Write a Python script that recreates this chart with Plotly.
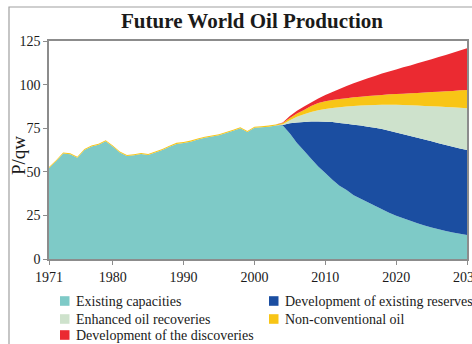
import plotly.graph_objects as go

# ---- data: world oil production by source (stacked contributions) ----
years = list(range(1971, 2031))

existing_capacities = [
    52.2, 56.0, 60.5, 60.0, 58.0, 62.5, 64.5, 65.5, 67.5, 64.5,
    61.0, 59.0, 59.5, 60.2, 59.6, 61.0, 62.5, 64.4, 66.0, 66.5,
    67.3, 68.5, 69.5, 70.2, 71.0, 72.2, 73.5, 75.0, 72.8, 75.3,
    75.5, 75.9, 76.5, 76.5, 72.0, 66.5, 62.0, 57.5, 53.0, 49.3,
    45.5, 42.0, 39.5, 36.5, 34.5, 32.5, 30.5, 28.5, 26.5, 24.8,
    23.3, 22.0, 20.5, 19.2, 18.0, 17.0, 16.0, 15.2, 14.5, 13.8,
]

# contributions before 2004 (33 years) followed by 2004-2030
existing_reserves = [0.0] * 33 + [
    0.3, 5.8, 11.8, 16.6, 21.3, 25.8, 29.4, 33.0, 36.0, 38.0,
    40.5, 42.0, 43.3, 44.8, 46.0, 47.0, 47.7, 48.2, 48.5, 49.0,
    49.3, 49.5, 49.3, 49.3, 49.1, 48.9, 48.7,
]

enhanced_recovery = [0.0] * 33 + [
    0.5, 1.7, 3.2, 4.4, 5.5, 6.5, 7.3, 8.1, 9.0, 9.9,
    10.7, 11.5, 12.4, 13.0, 13.9, 14.9, 15.9, 16.8, 17.7, 18.5,
    19.3, 20.1, 21.1, 21.9, 22.7, 23.3, 23.9,
]

non_conventional = [0.6] * 33 + [
    0.7, 1.3, 2.0, 2.5, 3.5, 4.2, 4.5, 4.6, 4.8, 4.8,
    5.0, 5.1, 5.3, 5.5, 5.7, 6.0, 6.2, 6.5, 6.8, 7.2,
    7.6, 8.1, 8.5, 9.0, 9.4, 10.0, 10.5,
]

discoveries = [0.0] * 33 + [
    0.2, 1.2, 1.5, 2.0, 1.9, 2.5, 3.5, 4.6, 5.7, 7.0,
    8.1, 9.1, 10.1, 11.2, 12.2, 13.1, 14.1, 15.1, 16.0, 17.0,
    18.0, 18.9, 19.9, 20.8, 21.9, 22.8, 23.9,
]

series_names = [
    "Existing capacities",
    "Development of existing reserves",
    "Enhanced oil recoveries",
    "Non-conventional oil",
    "Development of the discoveries",
]
series_values = [existing_capacities, existing_reserves, enhanced_recovery,
                 non_conventional, discoveries]
series_colors = ["#7ECAC7", "#1B4EA1", "#CEE2CC", "#F8C516", "#EB2A31"]

x_ticks = [1971, 1980, 1990, 2000, 2010, 2020, 2030]
y_ticks = [0, 25, 50, 75, 100, 125]

# ---- figure geometry (pixels) ----
W, H = 472, 344
ML, MR, MT, MB = 49, 5, 41, 85
PW, PH = W - ML - MR, H - MT - MB


def px_x(px):
    return (px - ML) / PW


def px_y(py):
    return (H - MB - py) / PH


SERIF = "Liberation Serif"
TXT = "#1a1a1a"
FRAME = "#8c8c8c"

fig = go.Figure()
for name, vals, col in zip(series_names, series_values, series_colors):
    fig.add_trace(go.Scatter(
        x=years, y=vals, name=name, mode="none",
        stackgroup="prod", fillcolor=col, line=dict(width=0),
        showlegend=False, hoverinfo="x+y+name",
    ))

# hand-placed two-column legend with square swatches
shapes = []
annotations = []
col_x = [60, 269]
row_y = [301, 319, 335]
for i, (name, col) in enumerate(zip(series_names, series_colors)):
    cx = col_x[i % 2]
    cy = row_y[i // 2]
    shapes.append(dict(
        type="rect", xref="paper", yref="paper",
        x0=px_x(cx), x1=px_x(cx + 9.5), y0=px_y(cy + 4.8), y1=px_y(cy - 4.8),
        fillcolor=col, line=dict(width=0), layer="above",
    ))
    annotations.append(dict(
        text=name, xref="paper", yref="paper",
        x=px_x(cx + 13.5), y=px_y(cy), xanchor="left", yanchor="middle",
        showarrow=False, font=dict(family=SERIF, size=14, color=TXT),
    ))

# outer panel border
shapes.append(dict(
    type="rect", xref="paper", yref="paper",
    x0=px_x(9), x1=px_x(W + 20), y0=px_y(H + 20), y1=px_y(7),
    line=dict(color="#a0a0a0", width=1.2), fillcolor="rgba(0,0,0,0)",
    layer="below",
))

# y-axis label
annotations.append(dict(
    text="P/qw", xref="paper", yref="paper",
    x=px_x(18), y=px_y(156), xanchor="center", yanchor="middle",
    textangle=-90, showarrow=False,
    font=dict(family=SERIF, size=19, color=TXT),
))

fig.update_layout(
    width=W, height=H,
    margin=dict(l=ML, r=MR, t=MT, b=MB, autoexpand=False),
    paper_bgcolor="white", plot_bgcolor="white",
    title=dict(
        text="<b>Future World Oil Production</b>",
        x=252 / W, xanchor="center", y=1 - 21 / H, yanchor="middle",
        font=dict(family=SERIF, size=21, color=TXT),
    ),
    shapes=shapes, annotations=annotations,
    showlegend=False,
)

fig.update_xaxes(
    range=[1971, 2030], tickvals=x_ticks,
    ticks="outside", ticklen=4, tickcolor=FRAME, tickwidth=1,
    showline=True, linecolor=FRAME, linewidth=1.5, mirror=True,
    showgrid=False, zeroline=False, ticklabeloverflow="allow",
    tickfont=dict(family=SERIF, size=14, color=TXT),
)
fig.update_yaxes(
    range=[0, 125], tickvals=y_ticks,
    ticks="outside", ticklen=4, tickcolor=FRAME, tickwidth=1,
    showline=True, linecolor=FRAME, linewidth=1.5, mirror=True,
    showgrid=False, zeroline=False,
    tickfont=dict(family=SERIF, size=14, color=TXT),
)

fig.write_html("out.html")
